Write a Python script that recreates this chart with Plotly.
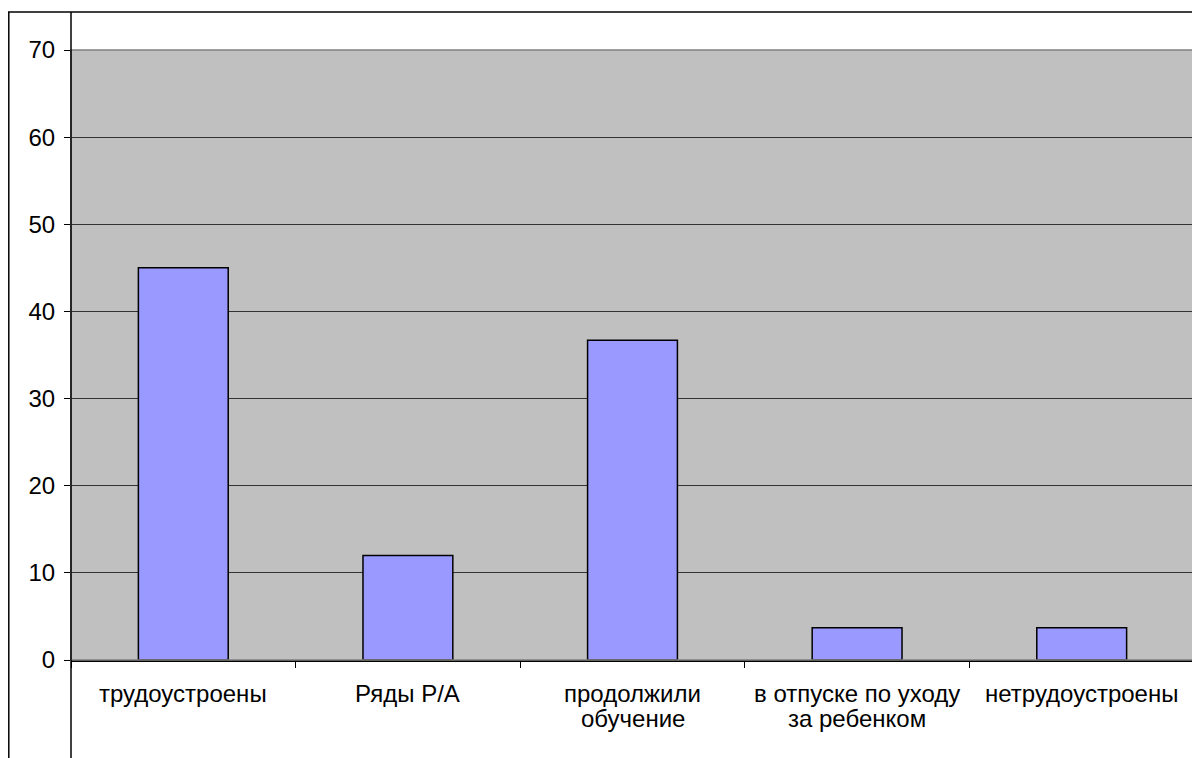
import plotly.graph_objects as go

categories = ["трудоустроены", "Ряды Р/А", "продолжили<br>обучение",
              "в отпуске по уходу<br>за ребенком", "нетрудоустроены"]
values = [45, 12, 36.7, 3.7, 3.7]
y_ticks = [0, 10, 20, 30, 40, 50, 60, 70]

fig = go.Figure(go.Bar(
    x=categories, y=values, width=0.4,
    marker=dict(color="#9999FF", line=dict(color="black", width=1.5)),
))

# page has an 8px body margin: figure is drawn at (8, 8)
OFF = 8
W, H = 1192, 750
L, R, T, B = 63, 6, 42, 98
pw = W - L - R
ph = H - T - B

def px_x(p):
    return (p - OFF - L) / pw

def px_y(p):
    return (H - B - (p - OFF)) / ph

# category labels as annotations (tighter line spacing like the original)
FIRST_LINE = 33   # px below axis for first line centre
LINE_STEP = 25
annotations = []
for cat in categories:
    for i, line in enumerate(cat.split("<br>")):
        annotations.append(dict(
            x=cat, xref="x", y=0, yref="paper", text=line, showarrow=False,
            xanchor="center", yanchor="middle",
            yshift=-(FIRST_LINE + i * LINE_STEP),
            font=dict(size=24, color="black"),
        ))

fig.update_layout(
    width=W, height=H,
    margin=dict(l=L, r=R, t=T, b=B),
    paper_bgcolor="white", plot_bgcolor="#C0C0C0",
    font=dict(family="Liberation Sans, Arial, sans-serif", size=24, color="black"),
    showlegend=False,
    xaxis=dict(
        type="category", range=[-0.5, 4.5], tickson="boundaries",
        ticks="outside", ticklen=6, tickcolor="black", tickwidth=1,
        showline=True, linecolor="black", linewidth=1.5,
        showgrid=False, showticklabels=False,
    ),
    yaxis=dict(
        range=[0, 70], tickvals=y_ticks,
        ticks="outside", ticklen=6, tickcolor="black", tickwidth=1,
        showline=False, showgrid=True, gridcolor="#333333", gridwidth=1,
        zeroline=False, tickfont=dict(size=24), ticklabelstandoff=4,
    ),
    annotations=annotations,
    shapes=[
        dict(type="rect", xref="paper", yref="paper", x0=0, x1=1, y0=0, y1=1,
             line=dict(color="#808080", width=1.5), layer="above"),
        dict(type="line", xref="paper", yref="paper",
             x0=0, x1=0, y0=px_y(12), y1=px_y(760),
             line=dict(color="black", width=1.5)),
        dict(type="line", xref="paper", yref="paper",
             x0=px_x(8.8), x1=px_x(8.8), y0=px_y(12), y1=px_y(760),
             line=dict(color="black", width=1.5)),
        dict(type="line", xref="paper", yref="paper",
             x0=px_x(8), x1=px_x(1202), y0=px_y(12), y1=px_y(12),
             line=dict(color="black", width=1.5)),
    ],
)

fig.write_html("out.html")
